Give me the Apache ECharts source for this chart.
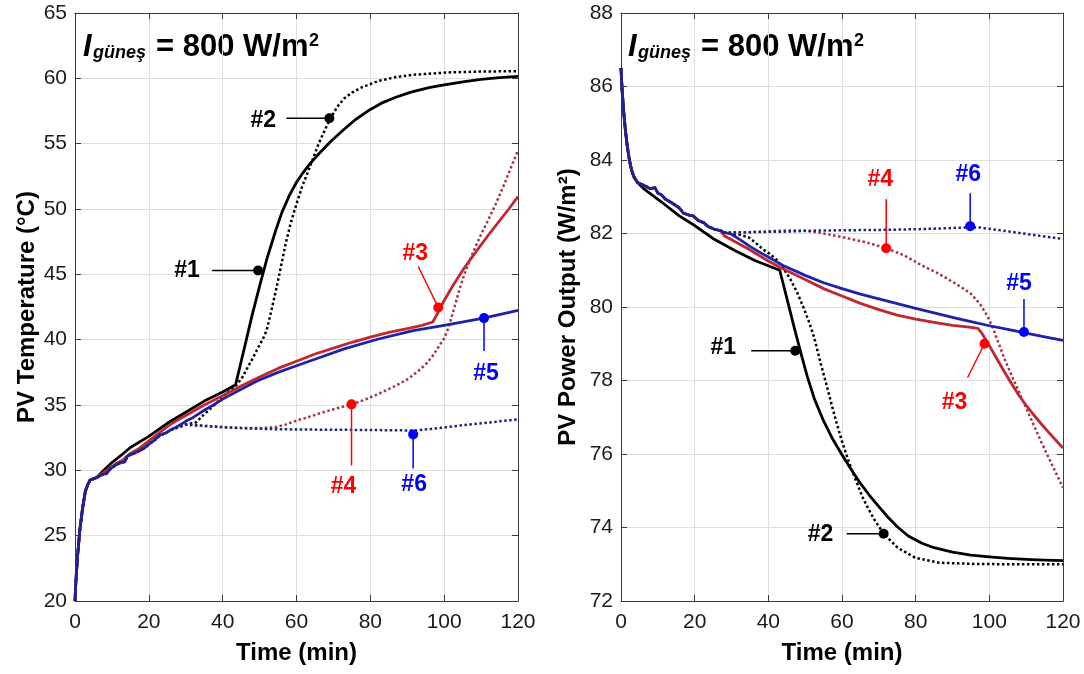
<!DOCTYPE html>
<html><head><meta charset="utf-8">
<script src="https://cdn.jsdelivr.net/npm/echarts@6/dist/echarts.min.js"></script>
<style>html,body{margin:0;padding:0;background:#fff}#c{width:1084px;height:674px}</style>
</head><body><div id="c"></div><script>
// ---------------- DATA: PV Temperature (°C) ----------------
const tempStartT = [0, 0.2, 0.65, 1.3, 2.05, 2.8, 3.45, 4.1, 5.8];
const tempStartV = [20, 21.3, 23.3, 25.4, 27.1, 28.4, 28.9, 29.26, 29.44];
// jagged warm-up shared by the dotted cases (#2, #4, #6)
const tempJagT = [7.6, 8.5, 9.5, 11, 12.5, 13.5, 14.2, 16, 17.5, 19, 20, 21.5, 23, 24.5, 26, 28, 30];
const tempJagV = [29.7, 29.75, 30.1, 30.4, 30.6, 30.65, 31.1, 31.3, 31.5, 31.75, 32.0, 32.3, 32.65, 32.85, 33.1, 33.3, 33.5];

const temp1T = [7.6, 10, 12.3, 15, 20, 25, 30, 35, 40, 43.5, 46, 48, 50, 52, 54.3, 56, 58, 60, 61.7, 63.6, 65.5, 67.5, 69.2, 72.9, 76, 79.9, 83, 86.9, 91, 96.2, 100, 105.5, 110, 115, 120];
const temp1V = [29.95, 30.6, 31.1, 31.75, 32.6, 33.6, 34.45, 35.3, 36.0, 36.55, 39.5, 41.9, 44.1, 46.2, 48.3, 49.7, 51.0, 52.05, 52.75, 53.45, 54.05, 54.65, 55.15, 56.1, 56.85, 57.6, 58.1, 58.55, 58.95, 59.3, 59.5, 59.75, 59.92, 60.05, 60.15];

const temp2T = [32.8, 34.5, 36.6, 38.5, 40.3, 42, 44, 45.5, 46.8, 48.2, 49.6, 50.8, 51.9, 53, 54.3, 55.5, 57.1, 58.5, 59.9, 61.5, 63.6, 66, 68.9, 71, 72.9, 75, 77.6, 82.2, 87, 91.6, 100.9, 110, 120];
const temp2V = [33.67, 34.15, 34.7, 35.2, 35.7, 36.1, 36.6, 37.2, 37.9, 38.6, 39.4, 40.0, 40.7, 42.0, 43.6, 45.2, 47.4, 49.0, 50.3, 51.7, 53.2, 55.0, 56.8, 57.8, 58.45, 58.9, 59.3, 59.8, 60.1, 60.27, 60.45, 60.52, 60.55];

const temp3T = [7.6, 9.5, 11, 13, 15, 17.5, 20, 22.5, 25, 27.5, 30, 35, 40, 45, 50, 55, 60, 65, 70, 75, 80, 85, 90, 94, 96.9, 98, 99, 100, 102.5, 105, 107.5, 110, 112.5, 115, 117.5, 120];
const temp3V = [29.8, 30.15, 30.5, 30.8, 31.3, 31.7, 32.25, 32.8, 33.35, 33.8, 34.2, 35.0, 35.7, 36.45, 37.15, 37.8, 38.35, 38.9, 39.35, 39.8, 40.2, 40.55, 40.85, 41.1, 41.35, 41.9, 42.45, 43.0, 44.2, 45.3, 46.3, 47.25, 48.2, 49.1, 50.0, 50.95];

const temp4T = [35, 40.3, 45, 50.5, 54.3, 57, 60, 63.5, 67.3, 71, 75, 78.5, 82.2, 86, 89.7, 93, 95.3, 97, 98.6, 100, 101, 102, 103, 104, 105, 106, 108, 110, 112, 114, 116, 118, 120];
const temp4V = [33.4, 33.3, 33.25, 33.23, 33.3, 33.5, 33.8, 34.1, 34.45, 34.75, 35.05, 35.4, 35.85, 36.35, 36.9, 37.6, 38.2, 38.8, 39.5, 40.1, 40.8, 41.7, 42.7, 43.7, 44.6, 45.4, 46.8, 48.05, 49.2, 50.4, 51.7, 53.1, 54.5];

const temp5T = [7.6, 8.5, 9.5, 11, 12.5, 13.5, 14.2, 16, 17.5, 19, 20, 21.5, 23, 24.5, 26, 28, 30, 32, 35, 37.5, 40, 45, 49.6, 55, 60, 65, 72.9, 82.2, 91.6, 100, 110.7, 120];
const temp5V = [29.7, 29.75, 30.1, 30.4, 30.6, 30.65, 31.1, 31.3, 31.5, 31.75, 32.0, 32.3, 32.7, 32.85, 33.1, 33.4, 33.75, 34.05, 34.6, 35.0, 35.45, 36.2, 36.87, 37.5, 38.0, 38.5, 39.3, 40.05, 40.7, 41.1, 41.65, 42.25];

const temp6T = [35, 40.3, 47, 54.3, 63, 72.9, 82.2, 91.7, 96, 100, 105, 110.2, 115, 120];
const temp6V = [33.4, 33.3, 33.2, 33.15, 33.12, 33.1, 33.08, 33.05, 33.15, 33.28, 33.45, 33.6, 33.75, 33.9];

// annotation anchor points (left panel)
const annTempNames = ['#1', '#2', '#3', '#4', '#5', '#6'];
const annTempT = [49.6, 68.9, 98.4, 74.9, 110.8, 91.6];
const annTempV = [45.3, 56.95, 42.46, 35.05, 41.65, 32.75];

// ---------------- DATA: PV Power Output (W/m²) ----------------
const powStartT = [0, 0.3, 0.75, 1.2, 1.7, 2.2, 2.6, 3.1, 3.6, 4.5];
const powStartV = [86.5, 85.9, 85.29, 84.8, 84.38, 84.05, 83.84, 83.65, 83.52, 83.39];
const powJagT = [6.4, 8, 9.2, 10, 11, 12, 13.5, 15.8, 17, 18.5, 19.6, 21, 22.4, 23.5, 25.2, 27];
const powJagV = [83.3, 83.22, 83.25, 83.1, 83.05, 82.94, 82.85, 82.7, 82.55, 82.5, 82.48, 82.35, 82.3, 82.2, 82.12, 82.08];

const pow1T = [6.4, 11.1, 15.8, 20.1, 25.2, 30.9, 36.5, 43.1, 45, 47, 48.7, 50.6, 52.5, 55, 57.5, 60, 62.5, 65, 67.5, 70, 72.5, 75, 78, 81.7, 85, 90, 95, 100, 105, 110, 115, 120];
const pow1V = [83.2, 82.85, 82.48, 82.21, 81.85, 81.54, 81.26, 81.0, 80.25, 79.45, 78.8, 78.1, 77.5, 76.9, 76.4, 75.98, 75.58, 75.2, 74.87, 74.57, 74.28, 74.02, 73.77, 73.57, 73.45, 73.33, 73.25, 73.2, 73.16, 73.13, 73.11, 73.1];

const pow2T = [28, 30, 32, 34.6, 36.5, 38.4, 40.3, 42.1, 44, 45.9, 47.8, 49.7, 51.2, 52.5, 54.3, 55.8, 57.2, 58.6, 60, 61.4, 62.8, 64.3, 65.7, 67.1, 68.5, 71.3, 75.1, 79.8, 86.4, 95.8, 105, 120];
const pow2V = [82.03, 82.0, 81.97, 81.9, 81.75, 81.58, 81.45, 81.3, 81.07, 80.77, 80.4, 79.95, 79.55, 79.15, 78.43, 77.88, 77.34, 76.82, 76.34, 75.92, 75.53, 75.15, 74.8, 74.52, 74.26, 73.83, 73.45, 73.18, 73.04, 73.01, 73.0, 73.0];

const pow3T = [28, 30, 34.6, 40, 43.1, 50, 55, 60, 65, 70, 75, 80, 85, 90, 94, 96.9, 98, 100, 102, 104, 106, 108, 110, 112, 114, 116, 118, 120];
const pow3V = [81.94, 81.83, 81.58, 81.25, 81.08, 80.75, 80.5, 80.3, 80.1, 79.93, 79.78, 79.67, 79.58, 79.5, 79.46, 79.42, 79.28, 78.95, 78.6, 78.25, 77.92, 77.6, 77.32, 77.07, 76.83, 76.6, 76.38, 76.16];

const pow4T = [28, 30, 34.6, 40, 44, 49.7, 54, 58.1, 62, 66.6, 72, 77, 81.7, 86.4, 91.1, 94.8, 97.5, 99.5, 101, 102.5, 104, 106, 108, 110, 112, 114, 116, 118, 120];
const pow4V = [82.03, 82.02, 82.03, 82.06, 82.08, 82.08, 82.02, 81.94, 81.86, 81.76, 81.6, 81.4, 81.13, 80.9, 80.62, 80.38, 80.08, 79.75, 79.42, 79.02, 78.62, 78.15, 77.7, 77.25, 76.8, 76.35, 75.92, 75.5, 75.08];

const pow5T = [28, 30, 32.5, 35, 37.5, 40, 44, 50, 55, 60, 65, 70, 75, 80, 85, 90, 95, 100, 105, 110, 115, 120];
const pow5V = [82.03, 81.98, 81.82, 81.65, 81.5, 81.36, 81.13, 80.86, 80.66, 80.5, 80.35, 80.22, 80.09, 79.96, 79.84, 79.72, 79.6, 79.49, 79.39, 79.29, 79.19, 79.09];

const pow6T = [28, 30, 37, 44, 53.4, 62, 72.2, 81.7, 90, 94.8, 97.5, 100.5, 105, 109.9, 115, 120];
const pow6V = [82.03, 82.03, 82.04, 82.05, 82.08, 82.09, 82.1, 82.12, 82.15, 82.17, 82.16, 82.12, 82.06, 81.99, 81.92, 81.85];

const annPowNames = ['#1', '#2', '#3', '#4', '#5', '#6'];
const annPowT = [47.3, 71.3, 98.7, 72.0, 109.4, 94.8];
const annPowV = [78.81, 73.83, 79.0, 81.6, 79.32, 82.2];

// axis tick settings
const timeMin = 0, timeMax = 120, timeStep = 20;
const tempMin = 20, tempMax = 65, tempStep = 5;
const powMin = 72, powMax = 88, powStep = 2;

// ---------------- BUILD ----------------
const FONT = '"Liberation Sans", Arial, Helvetica, sans-serif';
const zip = (t, v) => t.map((x, i) => [x, v[i]]);
const cat = (...a) => [].concat(...a);

const C = {
  black: '#000000', redS: '#C1272D', redD: '#A8323F', blueS: '#1E22A8', blueD: '#1B2580',
  redL: '#FF0000', blueL: '#0000FF'
};
const DOT = [2.5, 2.5];

function xAx(grid, pos) {
  const main = pos === 'bottom';
  return {
    type: 'value', gridIndex: grid, position: pos, min: timeMin, max: timeMax, interval: timeStep,
    axisLine: { show: true, onZero: false, lineStyle: { color: '#3a3a3a', width: 1 } },
    axisTick: { show: true, inside: true, length: 6, lineStyle: { color: '#3a3a3a' } },
    axisLabel: { show: main, fontSize: 21, color: '#1a1a1a', fontFamily: FONT, margin: 11 },
    splitLine: { show: main, lineStyle: { color: '#dedede', width: 1 } },
    name: main ? 'Time (min)' : '', nameLocation: 'middle', nameGap: 40,
    nameTextStyle: { fontSize: 24, fontWeight: 'bold', color: '#000', fontFamily: FONT }
  };
}
function yAx(grid, pos, mn, mx, step, name, gap) {
  const main = pos === 'left';
  return {
    type: 'value', gridIndex: grid, position: pos, min: mn, max: mx, interval: step,
    axisLine: { show: true, onZero: false, lineStyle: { color: '#3a3a3a', width: 1 } },
    axisTick: { show: true, inside: true, length: 6, lineStyle: { color: '#3a3a3a' } },
    axisLabel: { show: main, fontSize: 21, color: '#1a1a1a', fontFamily: FONT, margin: 8 },
    splitLine: { show: main, lineStyle: { color: '#dedede', width: 1 } },
    name: main ? name : '', nameLocation: 'middle', nameGap: gap, nameRotate: 90,
    nameTextStyle: { fontSize: 24, fontWeight: 'bold', color: '#000', fontFamily: FONT }
  };
}
function line(xi, yi, data, color, dotted, w, z) {
  return {
    type: 'line', xAxisIndex: xi, yAxisIndex: yi, data: data, showSymbol: false, symbol: 'none',
    animation: false, z: z, silent: true, smooth: false,
    lineStyle: { color: color, width: w, type: dotted ? DOT : 'solid', cap: 'butt', join: 'round' }
  };
}

// label layout for annotations: [labelDx, labelDy, leaderDx, leaderDy, color]
const layTemp = [
  [-71, 0, -46, 0, C.black],
  [-66, 2, -43, 0, C.black],
  [-23, -54, -20, -41, C.redL],
  [-8, 82, 0, 61, C.redL],
  [2, 56, 0, 33, C.blueL],
  [1, 50, 0, 34, C.blueL]
];
const layPow = [
  [-72, -3, -44, 0, C.black],
  [-63, 1, -37, 0, C.black],
  [-30, 59, -17, 34, C.redL],
  [-6, -69, 0, -49, C.redL],
  [-5, -48, 0, -33, C.blueL],
  [-2, -51, 0, -33, C.blueL]
];
function ann(xi, yi, names, ts, vs, lay) {
  return {
    type: 'custom', xAxisIndex: xi, yAxisIndex: yi, clip: false, z: 20, animation: false, silent: true,
    data: ts.map((t, i) => [t, vs[i], i]),
    renderItem: function (params, api) {
      const i = api.value(2);
      const p = api.coord([api.value(0), api.value(1)]);
      const L = lay[i];
      return {
        type: 'group', children: [
          { type: 'line', shape: { x1: p[0] + L[2], y1: p[1] + L[3], x2: p[0], y2: p[1] }, style: { stroke: L[4], lineWidth: 1.5 } },
          { type: 'circle', shape: { cx: p[0], cy: p[1], r: 5 }, style: { fill: L[4] } },
          { type: 'text', x: p[0] + L[0], y: p[1] + L[1], style: { text: names[i], fill: L[4], fontSize: 23, fontWeight: 'bold', fontFamily: FONT, align: 'center', verticalAlign: 'middle' } }
        ]
      };
    }
  };
}
function titleG(x) {
  return [
    { type: 'text', left: x, top: 32, style: { text: 'I', fontSize: 31, fontWeight: 'bold', fontStyle: 'italic', fontFamily: FONT, fill: '#000' } },
    { type: 'text', left: x + 10, top: 44, style: { text: 'güneş', fontSize: 18, fontWeight: 'bold', fontStyle: 'italic', fontFamily: FONT, fill: '#000' } },
    { type: 'text', left: x + 73, top: 32, style: { text: '= 800 W/m', fontSize: 31, fontWeight: 'bold', fontFamily: FONT, fill: '#000' } },
    { type: 'text', left: x + 226, top: 32, style: { text: '2', fontSize: 18, fontWeight: 'bold', fontFamily: FONT, fill: '#000' } }
  ];
}

const option = {
  backgroundColor: '#ffffff',
  animation: false,
  grid: [
    { left: 75, top: 13, width: 443, height: 588 },
    { left: 621, top: 13, width: 442, height: 588 }
  ],
  xAxis: [xAx(0, 'bottom'), xAx(0, 'top'), xAx(1, 'bottom'), xAx(1, 'top')],
  yAxis: [
    yAx(0, 'left', tempMin, tempMax, tempStep, 'PV Temperature (°C)', 36),
    yAx(0, 'right', tempMin, tempMax, tempStep, '', 0),
    yAx(1, 'left', powMin, powMax, powStep, 'PV Power Output (W/m²)', 41),
    yAx(1, 'right', powMin, powMax, powStep, '', 0)
  ],
  graphic: [].concat(titleG(83), titleG(628)),
  series: [
    line(0, 0, zip(cat(tempStartT, temp1T), cat(tempStartV, temp1V)), C.black, false, 2.8, 2),
    line(0, 0, zip(cat(tempStartT, tempJagT, temp2T), cat(tempStartV, tempJagV, temp2V)), C.black, true, 2.5, 2),
    line(0, 0, zip(cat(tempStartT, temp3T), cat(tempStartV, temp3V)), C.redS, false, 2.8, 3),
    line(0, 0, zip(cat(tempStartT, tempJagT, temp4T), cat(tempStartV, tempJagV, temp4V)), C.redD, true, 2.5, 3),
    line(0, 0, zip(cat(tempStartT, temp5T), cat(tempStartV, temp5V)), C.blueS, false, 2.8, 4),
    line(0, 0, zip(cat(tempStartT, tempJagT, temp6T), cat(tempStartV, tempJagV, temp6V)), C.blueD, true, 2.5, 4),
    ann(0, 0, annTempNames, annTempT, annTempV, layTemp),

    line(2, 2, zip(cat(powStartT, pow1T), cat(powStartV, pow1V)), C.black, false, 2.8, 2),
    line(2, 2, zip(cat(powStartT, powJagT, pow2T), cat(powStartV, powJagV, pow2V)), C.black, true, 2.5, 2),
    line(2, 2, zip(cat(powStartT, powJagT, pow3T), cat(powStartV, powJagV, pow3V)), C.redS, false, 2.8, 3),
    line(2, 2, zip(cat(powStartT, powJagT, pow4T), cat(powStartV, powJagV, pow4V)), C.redD, true, 2.5, 3),
    line(2, 2, zip(cat(powStartT, powJagT, pow5T), cat(powStartV, powJagV, pow5V)), C.blueS, false, 2.8, 4),
    line(2, 2, zip(cat(powStartT, powJagT, pow6T), cat(powStartV, powJagV, pow6V)), C.blueD, true, 2.5, 4),
    ann(2, 2, annPowNames, annPowT, annPowV, layPow)
  ]
};
const chart = echarts.init(document.getElementById('c'), null, { renderer: 'canvas' });
chart.setOption(option);
</script></body></html>
